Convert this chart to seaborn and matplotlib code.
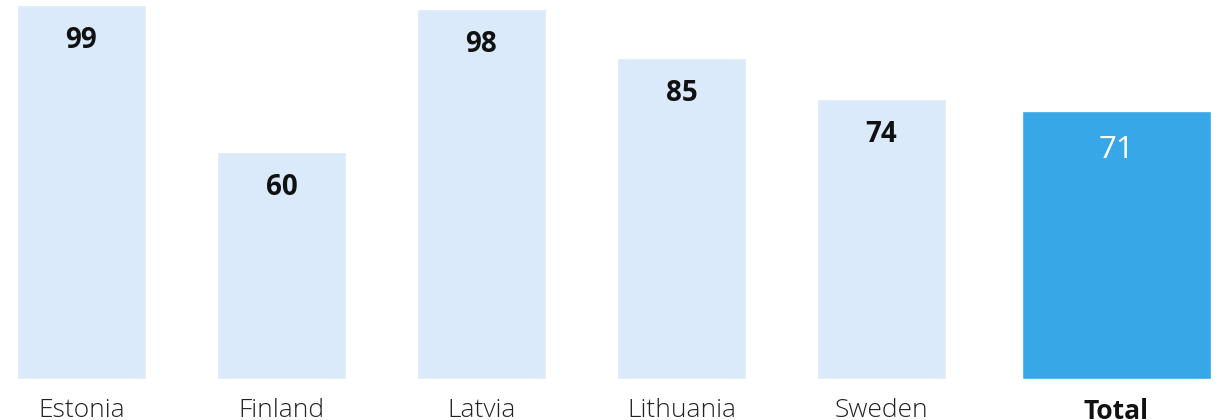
"""Bar chart of country scores with a highlighted total bar."""

import matplotlib
matplotlib.use("Agg")

import matplotlib.pyplot as plt
import seaborn as sns

countries = ["Estonia", "Finland", "Latvia", "Lithuania", "Sweden"]
scores = [99, 60, 98, 85, 74]
total_label = "Total"
total_score = 71

LIGHT = "#DAEAFA"
BLUE = "#38A7E8"

sns.set_theme(style="white")
plt.rcParams["font.family"] = ["Open Sans", "DejaVu Sans"]

W, H = 1223, 420
fig = plt.figure(figsize=(W / 100, H / 100), dpi=100)

bottom = (H - 379) / H
height = 379 / H
ymax = 379 / 3.778

# five countries, 200 px per slot
ax = fig.add_axes([0, bottom, 981.5 / W, height])
sns.barplot(x=countries, y=scores, color=LIGHT, width=0.645, saturation=1, ax=ax)
ax.set_xlim(-81.5 / 200, 4.5)

# total bar on its own axes
ax2 = fig.add_axes([1010 / W, bottom, 213 / W, height])
sns.barplot(x=[total_label], y=[total_score], color=BLUE, width=189 / 213,
            saturation=1, ax=ax2)
ax2.set_xlim(-0.5, 0.5)

for a in (ax, ax2):
    a.set_ylim(0, ymax)
    a.set_yticks([])
    a.set_ylabel("")
    a.set_xlabel("")
    sns.despine(ax=a, left=True, bottom=True)
    a.tick_params(axis="x", length=0, pad=13.5)

for i, v in enumerate(scores):
    ax.annotate(str(v), (i, v), xytext=(0, -43), textcoords="offset pixels",
                ha="center", va="baseline", fontsize=20, fontweight="bold",
                color="#111111")
ax2.annotate(str(total_score), (0, total_score), xytext=(0, -47),
             textcoords="offset pixels", ha="center", va="baseline",
             fontsize=22.5, color="white")

for lbl in ax.get_xticklabels():
    lbl.set_fontsize(19)
    lbl.set_fontweight("light")
    lbl.set_color("#222222")
for lbl in ax2.get_xticklabels():
    lbl.set_fontsize(19)
    lbl.set_fontweight("bold")
    lbl.set_color("#111111")

fig.savefig("out.png", dpi=100)
plt.close(fig)
